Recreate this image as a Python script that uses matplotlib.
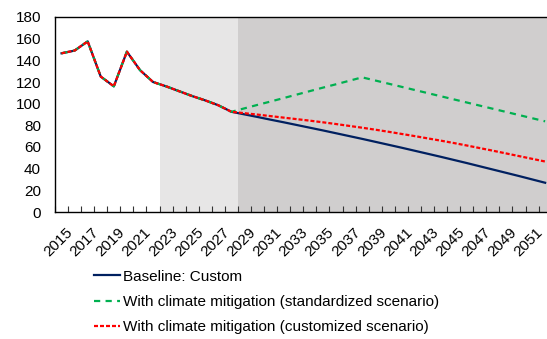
import matplotlib

matplotlib.use("Agg")
import matplotlib.pyplot as plt
import numpy as np

plt.rcParams["font.family"] = ["Liberation Sans", "DejaVu Sans"]

# Years on the category axis
years = list(range(2015, 2053))

# Shared history 2015-2028
history = [146.5, 149, 157.5, 125, 116, 148, 131, 120, 116, 111.5, 107, 103, 98.5, 92.5]

# Projections 2029-2052
baseline_future = [90.1, 87.7, 85.2, 82.8, 80.3, 77.8, 75.3, 72.7, 70.1, 67.5, 64.8, 62.1,
                   59.4, 56.6, 53.8, 51.0, 48.1, 45.2, 42.2, 39.2, 36.2, 33.2, 30.1, 27.0]
standard_future = [95.7, 98.9, 102.0, 105.2, 108.4, 111.6, 114.8, 117.9, 121.1, 124.3, 121.4, 118.5,
                   115.6, 112.7, 109.8, 106.9, 104.0, 101.1, 98.2, 95.3, 92.4, 89.5, 86.6, 83.7]
custom_future = [91.2, 89.9, 88.5, 87.1, 85.7, 84.3, 82.8, 81.2, 79.5, 77.8, 76.0, 74.1,
                 72.1, 70.1, 68.0, 65.9, 63.7, 61.4, 59.0, 56.6, 54.1, 51.6, 49.1, 46.6]

labels = ["Baseline: Custom",
          "With climate mitigation (standardized scenario)",
          "With climate mitigation (customized scenario)"]

# Shaded periods (first and last year of each band)
light_band = (2023, 2028)
dark_band = (2029, 2052)

x = np.arange(len(years))
baseline = history + baseline_future
standard = history + standard_future
custom = history + custom_future

fig = plt.figure(figsize=(5.47, 3.39), dpi=100)
# the plot area runs a few pixels past the right edge of the image
ax = fig.add_axes([55 / 547, 1 - 212 / 339, 38 * 13.07 / 547, 195 / 339])

ax.axvspan(years.index(light_band[0]) - 0.5, years.index(light_band[1]) + 0.5,
           color="#E7E6E6", lw=0, zorder=0)
ax.axvspan(years.index(dark_band[0]) - 0.5, years.index(dark_band[1]) + 0.5,
           color="#D0CECE", lw=0, zorder=0)

ax.plot(x, baseline, color="#002060", lw=1.6, label=labels[0], zorder=3)
ax.plot(x, standard, color="#00B050", lw=1.6, ls=(0, (2.8, 2.4)), label=labels[1], zorder=4)
ax.plot(x, custom, color="#FF0000", lw=1.6, ls=(0, (1.8, 0.9)), label=labels[2], zorder=5)

ax.set_xlim(-0.5, len(years) - 0.5)
ax.set_ylim(0, 180)
ax.set_yticks(range(0, 181, 20))
ax.tick_params(axis="y", length=0, pad=10, labelsize=11)

ax.set_xticks(x[::2] + 0.3)
ax.set_xticklabels([str(y) for y in years[::2]], rotation=45, ha="right",
                   rotation_mode="anchor", fontsize=11)
ax.tick_params(axis="x", which="major", length=0, pad=9.5)
ax.set_xticks(np.arange(len(years) + 1) - 0.5, minor=True)
ax.tick_params(axis="x", which="minor", direction="in", length=4, width=0.8, color="#333333")

for side in ["top", "left", "bottom"]:
    ax.spines[side].set_color("black")
    ax.spines[side].set_linewidth(1.0)
ax.spines["right"].set_visible(False)

fig.legend(loc="upper left", bbox_to_anchor=(80 / 547, 1 - 256 / 339), frameon=False,
           fontsize=11, handlelength=1.7, handletextpad=0.2, labelspacing=0.74)

fig.savefig("out.png", dpi=100)
